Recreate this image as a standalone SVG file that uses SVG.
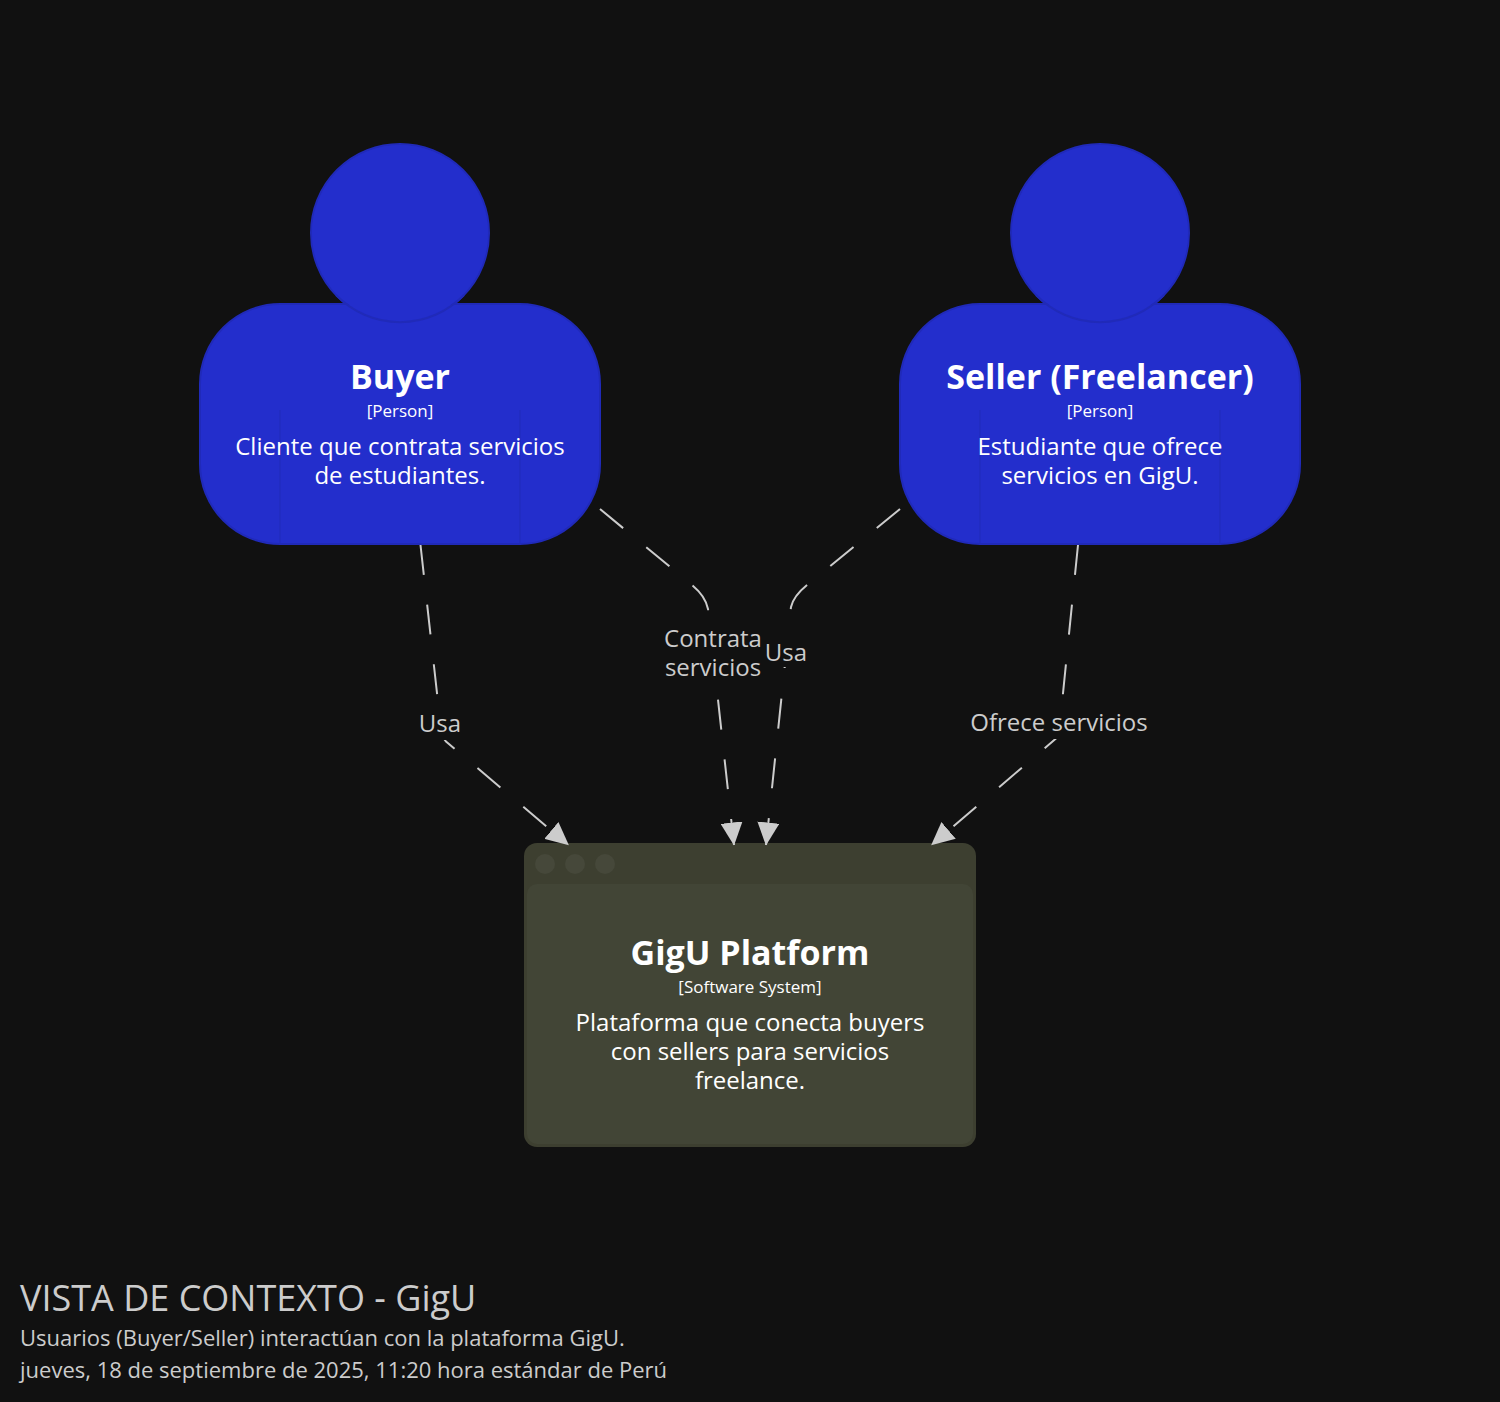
<svg xmlns="http://www.w3.org/2000/svg" width="1500" height="1402" viewBox="0 0 1500 1402">
<style>
text{font-family:"Open Sans","Noto Sans","Liberation Sans",sans-serif}
.n{fill:#ffffff;text-anchor:middle}
.name{font-size:34px;font-weight:700}
.meta{font-size:17px}
.desc{font-size:24px}
.lab{fill:#cccccc;font-size:24px;text-anchor:middle}
.body{fill:#232ecc;stroke:#202ab9;stroke-width:2}
.arm{fill:none;stroke:#202ab9;stroke-width:1}
.win{fill:#3d3f30}
.pane{fill:#424536}
.dot{fill:#46483a}
.edge{fill:none;stroke:#cccccc;stroke-width:2;stroke-dasharray:30 30;marker-end:url(#tri)}
.bg{fill:#111111}
.cap{fill:#cccccc}
</style>
<defs>
<marker id="tri" markerUnits="userSpaceOnUse" markerWidth="23" markerHeight="22" refX="22.500" refY="11" orient="auto" viewBox="0 0 23 22">
<path d="M0 0L23 11L0 22Z" fill="#cccccc"/>
</marker>
</defs>
<rect width="1500" height="1402" fill="#111111"/>
<g id="buyer">
<circle class="body" cx="400" cy="233" r="89"/>
<rect class="body" x="200" y="304" width="400" height="240" rx="80"/>
<circle cx="400" cy="233" r="88" fill="#232ecc"/>
<path class="arm" d="M280 410V544M520 410V544"/>
<path d="M336 295A89 89 0 0 0 464 295" fill="none" stroke="#202ab9" stroke-width="2"/>
<text class="n name" x="400" y="389">Buyer</text>
<text class="n meta" x="400" y="417">[Person]</text>
<text class="n desc" x="400" y="455">Cliente que contrata servicios</text>
<text class="n desc" x="400" y="484">de estudiantes.</text>
</g>
<g id="seller">
<circle class="body" cx="1100" cy="233" r="89"/>
<rect class="body" x="900" y="304" width="400" height="240" rx="80"/>
<circle cx="1100" cy="233" r="88" fill="#232ecc"/>
<path class="arm" d="M980 410V544M1220 410V544"/>
<path d="M1036 295A89 89 0 0 0 1164 295" fill="none" stroke="#202ab9" stroke-width="2"/>
<text class="n name" x="1100" y="389">Seller (Freelancer)</text>
<text class="n meta" x="1100" y="417">[Person]</text>
<text class="n desc" x="1100" y="455">Estudiante que ofrece</text>
<text class="n desc" x="1100" y="484">servicios en GigU.</text>
</g>
<g id="gigu-platform">
<rect class="win" x="524" y="843" width="452" height="304" rx="13"/>
<rect class="pane" x="527" y="884" width="446" height="260" rx="10"/>
<circle class="dot" cx="545" cy="864" r="10"/>
<circle class="dot" cx="575" cy="864" r="10"/>
<circle class="dot" cx="605" cy="864" r="10"/>
<text class="n name" x="750" y="965">GigU Platform</text>
<text class="n meta" x="750" y="993">[Software System]</text>
<text class="n desc" x="750" y="1031">Plataforma que conecta buyers</text>
<text class="n desc" x="750" y="1060">con sellers para servicios</text>
<text class="n desc" x="750" y="1089">freelance.</text>
</g>
<g id="connectors">
<path class="edge" d="M420.5 545L440.900 728Q441.500 737 446 741.500L568.500 845"/>
<path class="edge" d="M600 509L692 585Q705.500 596 708 609L734 845"/>
<path class="edge" d="M900 509L807 585Q793.500 596 791 607L766 845"/>
<path class="edge" d="M1078 545L1060.500 718Q1059 736 1056 738.500L931.500 845"/>
</g>
<g id="edge-labels">
<rect class="bg" x="418" y="707" width="44" height="33"/>
<text class="lab" x="440" y="732">Usa</text>
<rect class="bg" x="663" y="625" width="100" height="70"/>
<text class="lab" x="713" y="647">Contrata</text>
<text class="lab" x="713" y="676">servicios</text>
<rect class="bg" x="764" y="636" width="44" height="31"/>
<rect class="bg" x="764" y="668" width="44" height="28"/>
<text class="lab" x="786" y="661">Usa</text>
<rect class="bg" x="968" y="706" width="181" height="33"/>
<text class="lab" x="1059" y="731">Ofrece servicios</text>
</g>
<g id="caption">
<text class="cap" x="20" y="1311" font-size="36">VISTA DE CONTEXTO - GigU</text>
<text class="cap" x="20" y="1346" font-size="22">Usuarios (Buyer/Seller) interactúan con la plataforma GigU.</text>
<text class="cap" x="20" y="1378" font-size="22">jueves, 18 de septiembre de 2025, 11:20 hora estándar de Perú</text>
</g>
</svg>
